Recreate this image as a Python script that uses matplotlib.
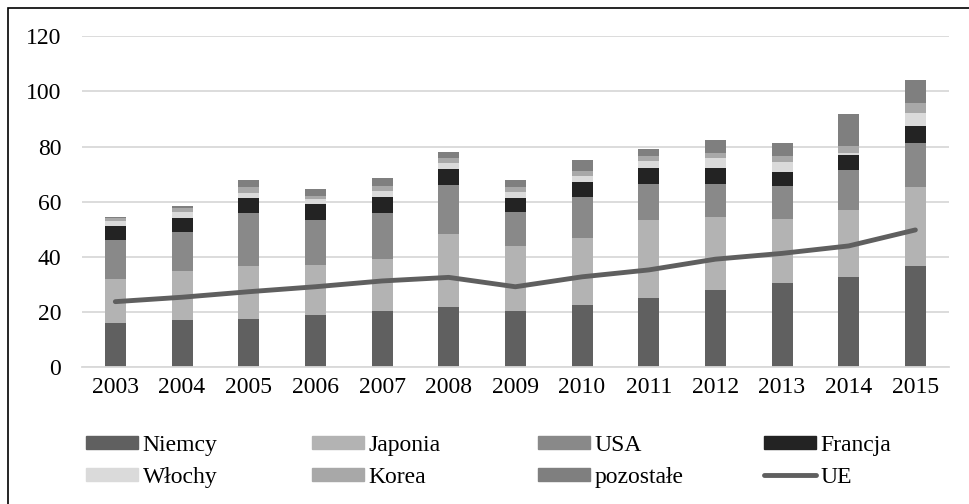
import matplotlib.pyplot as plt
import numpy as np
from matplotlib.patches import Rectangle, Patch
from matplotlib.lines import Line2D

plt.rcParams['font.family'] = ['Liberation Serif', 'DejaVu Serif']

years = ['2003', '2004', '2005', '2006', '2007', '2008', '2009',
         '2010', '2011', '2012', '2013', '2014', '2015']

niemcy = [16.2, 17.2, 17.6, 19.1, 20.5, 22.0, 20.3, 22.5, 25.1, 28.0, 30.7, 32.7, 36.7]
japonia = [15.8, 17.7, 19.1, 17.9, 18.9, 26.3, 23.7, 24.5, 28.3, 26.5, 23.1, 24.3, 28.7]
usa = [14.3, 14.2, 19.4, 16.4, 16.4, 17.7, 12.3, 14.9, 12.9, 12.1, 11.9, 14.5, 15.9]
francja = [4.9, 5.2, 5.4, 5.9, 6.0, 5.9, 5.1, 5.2, 5.8, 5.7, 5.1, 5.5, 6.1]
wlochy = [1.9, 2.1, 1.8, 1.6, 2.1, 2.3, 2.2, 2.3, 2.6, 3.6, 3.6, 0.6, 4.9]
korea = [0.9, 1.5, 2.1, 1.2, 2.0, 1.7, 1.8, 1.8, 1.9, 1.9, 2.3, 2.6, 3.5]
pozostale = [0.5, 0.6, 2.5, 2.7, 2.6, 2.3, 2.6, 4.0, 2.7, 4.6, 4.5, 11.6, 8.4]
ue = [23.8, 25.4, 27.4, 29.2, 31.3, 32.6, 29.2, 32.8, 35.3, 39.2, 41.3, 44.0, 49.8]

series = [
    ('Niemcy', niemcy, '#606060'),
    ('Japonia', japonia, '#b3b3b3'),
    ('USA', usa, '#898989'),
    ('Francja', francja, '#232323'),
    ('Włochy', wlochy, '#dadada'),
    ('Korea', korea, '#a8a8a8'),
    ('pozostałe', pozostale, '#7f7f7f'),
]
ue_color = '#5f5f5f'

W, H = 970, 504
fig = plt.figure(figsize=(W / 100, H / 100), dpi=100)
ax = fig.add_axes([82 / W, 1 - 367.3 / H, (948.7 - 82) / W, 331 / H])

x = np.arange(len(years))
bottom = np.zeros(len(years))
for name, vals, color in series:
    ax.bar(x, vals, 0.315, bottom=bottom, color=color, zorder=2)
    bottom += np.array(vals)

ax.plot(x, ue, color=ue_color, lw=3.5, solid_capstyle='round',
        solid_joinstyle='round', zorder=3)

ax.set_xlim(-0.5, len(years) - 0.5)
ax.set_ylim(0, 120)
ax.set_yticks(range(0, 121, 20))
ax.set_xticks(x)
ax.set_xticklabels(years)
ax.grid(axis='y', color='#d9d9d9', lw=1.3, zorder=0)
for side in ['left', 'right', 'top']:
    ax.spines[side].set_visible(False)
ax.spines['bottom'].set_color('#d9d9d9')
ax.spines['bottom'].set_linewidth(1.3)
ax.tick_params(axis='y', length=0, labelsize=17, pad=15)
ax.tick_params(axis='x', length=0, labelsize=17, pad=7)

# legend laid out as four columns, two rows
handles = [Patch(color=c, label=n) for n, _, c in series]
handles.append(Line2D([], [], color=ue_color, lw=3.5, solid_capstyle='round', label='UE'))
columns = [[handles[0], handles[4]], [handles[1], handles[5]],
           [handles[2], handles[6]], [handles[3], handles[7]]]
for i, col in enumerate(columns):
    fig.legend(handles=col, loc='upper left',
               bbox_to_anchor=((86 + 226 * i) / W, 1 - 435 / H),
               frameon=False, fontsize=17, ncol=1, borderpad=0,
               borderaxespad=0, handlelength=2.2, handleheight=0.5,
               handletextpad=0.2, labelspacing=0.45)

# outer frame, open on the right and bottom
fig.add_artist(Rectangle((8 / W, -1), 2, 2 - 8 / H, transform=fig.transFigure,
                         fill=False, edgecolor='black', lw=1.2))

fig.savefig('out.png', dpi=100)
